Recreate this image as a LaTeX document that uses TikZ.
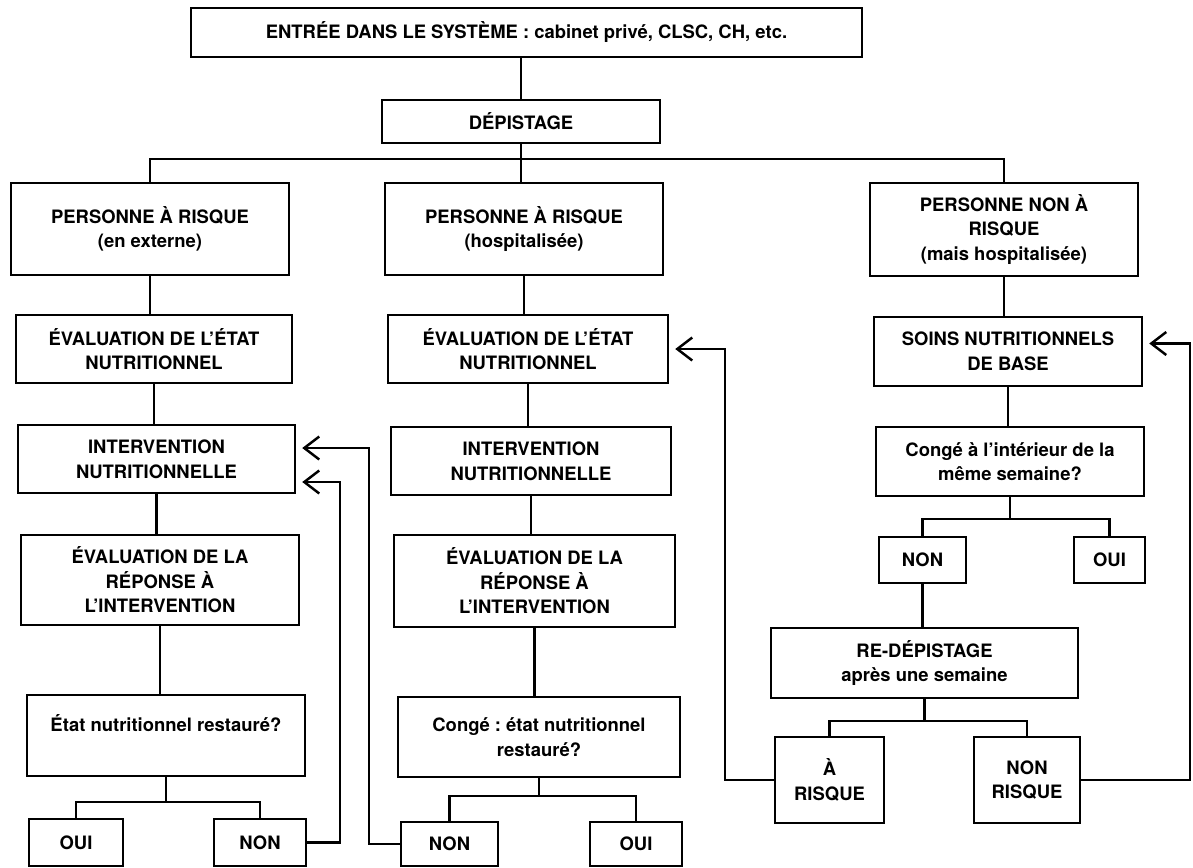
\documentclass[tikz,border=0pt]{standalone}
\usepackage{fontspec}
\setmainfont{TeX Gyre Heros}
\usetikzlibrary{arrows.meta}
\frenchspacing
\begin{document}
\begin{tikzpicture}[x=0.02cm, y=-0.02cm,
    box/.style={draw, line width=1.4pt, align=center, inner sep=0pt,
      font=\bfseries\fontsize{10.5}{14}\selectfont},
    link/.style={line width=1.4pt},
    back/.style={line width=1.4pt, -{Straight Barb[length=0.3cm, width=0.46cm]}, shorten >=0.12cm}]
  \useasboundingbox (0,0) rectangle (1193,867);
  \newcommand{\stepBox}[6]{
    % draws one box of the chart
    % args:
    %     name
    %     left, top, right, bottom (pixels of the scan)
    %     text
    \node[box, minimum width={(#4-#2)*0.02cm}, minimum height={(#5-#3)*0.02cm}]
      (#1) at ({(#2+#4)/2}, {(#3+#5)/2}) {#6};
  }
  \newcommand{\downLink}[2]{
    % args: upper box, lower box
    \draw[link] (#1.south) -- (#1.south |- #2.north);
  }
  \newcommand{\splitLink}[4]{
    % args:
    %     parent
    %     left child
    %     right child
    %     height of the bus over the children
    \draw[link] (#2.north) -- ++(0,-#4) coordinate (bus_#1) -| (#3.north);
    \draw[link] (#1.south) -- (#1.south |- bus_#1);
  }
  %
  % top
  \stepBox{entree}{191}{8}{862}{57}{ENTRÉE DANS LE SYSTÈME : cabinet privé, CLSC, CH, etc.}
  \stepBox{depist}{382}{100}{660}{143}{DÉPISTAGE}
  % first row
  \stepBox{riskext}{11}{183}{289}{275}{PERSONNE À RISQUE\\(en externe)}
  \stepBox{riskhosp}{385}{183}{663}{275}{PERSONNE À RISQUE\\(hospitalisée)}
  \stepBox{risknon}{870}{183}{1138}{276}{PERSONNE NON À\\RISQUE\\(mais hospitalisée)}
  % left column
  \stepBox{leval}{16}{315}{292}{383}{ÉVALUATION DE L'ÉTAT\\NUTRITIONNEL}
  \stepBox{linterv}{18}{425}{295}{493}{INTERVENTION\\NUTRITIONNELLE}
  \stepBox{lrep}{21}{535}{299}{625}{ÉVALUATION DE LA\\RÉPONSE À\\L'INTERVENTION}
  \stepBox{letat}{27}{695}{305}{776}{État nutritionnel restauré?\\~}
  \stepBox{loui}{29}{819}{123}{866}{OUI}
  \stepBox{lnon}{214}{819}{306}{866}{NON}
  % middle column
  \stepBox{meval}{388}{315}{668}{383}{ÉVALUATION DE L'ÉTAT\\NUTRITIONNEL}
  \stepBox{minterv}{391}{427}{671}{495}{INTERVENTION\\NUTRITIONNELLE}
  \stepBox{mrep}{394}{535}{675}{627}{ÉVALUATION DE LA\\RÉPONSE À\\L'INTERVENTION}
  \stepBox{mconge}{398}{697}{680}{777}{Congé : état nutritionnel\\restauré?}
  \stepBox{mnon}{401}{822}{498}{866}{NON}
  \stepBox{moui}{590}{822}{682}{866}{OUI}
  % right column
  \stepBox{soins}{874}{317}{1142}{386}{SOINS NUTRITIONNELS\\DE BASE}
  \stepBox{conge}{876}{427}{1144}{496}{Congé à l'intérieur de la\\même semaine?}
  \stepBox{rnon}{879}{537}{966}{583}{NON}
  \stepBox{roui}{1074}{537}{1145}{583}{OUI}
  \stepBox{redep}{771}{628}{1078}{698}{RE-DÉPISTAGE\\après une semaine}
  \stepBox{arisk}{775}{737}{884}{823}{À\\RISQUE}
  \stepBox{nrisk}{974}{737}{1080}{823}{NON\\RISQUE}
  %
  % tree lines
  \draw[link] (depist.north |- entree.south) -- (depist.north);
  \draw[link] (riskext.north) -- ++(0,-23) coordinate (bus_depist) -| (risknon.north);
  \downLink{depist}{riskhosp}
  \downLink{riskext}{leval}
  \downLink{leval}{linterv}
  \downLink{linterv}{lrep}
  \downLink{lrep}{letat}
  \splitLink{letat}{loui}{lnon}{16}
  \downLink{riskhosp}{meval}
  \downLink{meval}{minterv}
  \downLink{minterv}{mrep}
  \downLink{mrep}{mconge}
  \splitLink{mconge}{mnon}{moui}{25}
  \downLink{risknon}{soins}
  \downLink{soins}{conge}
  \splitLink{conge}{rnon}{roui}{17}
  \downLink{rnon}{redep}
  \splitLink{redep}{arisk}{nrisk}{15}
  % loops back
  \draw[back] (lnon.east) -- ++(33,0) |- ([yshift=-0.46cm]linterv.east);
  \draw[back] (mnon.west) -- ++(-31,0) |- ([yshift=0.22cm]linterv.east);
  \draw[back] (arisk.west) -- ++(-49,0) |- (meval.east);
  \draw[back] (nrisk.east) -- ++(109,0) |- ([yshift=0.16cm]soins.east);
\end{tikzpicture}
\end{document}
